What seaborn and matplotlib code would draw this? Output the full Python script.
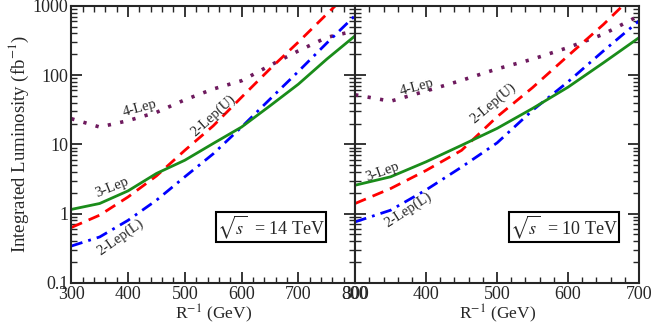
import numpy as np
import pandas as pd
import matplotlib
matplotlib.use('Agg')
import matplotlib.pyplot as plt
from matplotlib.ticker import MultipleLocator, LogLocator, NullFormatter, FixedLocator
import seaborn as sns

# datos
r_14 = [300, 350, 400, 450, 500, 550, 600, 650, 700, 750, 800]
lep3_14 = [1.15, 1.40, 2.13, 3.8, 5.9, 10.3, 17.8, 36, 74, 170, 370]
lep2u_14 = [0.63, 0.95, 1.74, 3.5, 8.2, 18.5, 48, 123, 300, 760, 1900]
lep2l_14 = [0.34, 0.46, 0.8, 1.56, 3.4, 7.3, 17.8, 45, 113, 290, 725]
lep4_14 = [23.5, 17.8, 22, 29, 44, 63, 83, 138, 224, 350, 437]

r_10 = [300, 350, 400, 450, 500, 550, 600, 650, 700]
lep3_10 = [2.57, 3.4, 5.6, 9.7, 17, 33, 67, 151, 347]
lep2u_10 = [1.40, 2.3, 4.2, 8.2, 25, 66, 190, 540, 1700]
lep2l_10 = [0.76, 1.12, 2.2, 4.7, 10.5, 31, 80, 224, 606]
lep4_10 = [52, 42, 59, 84, 123, 170, 250, 390, 720]

sns.set_style('ticks')
plt.rcParams['font.family'] = ['Liberation Serif', 'DejaVu Serif']
plt.rcParams['mathtext.fontset'] = 'stix'

colores = {'3-Lep': '#1a8c1a', '2-Lep(U)': '#ff0000', '2-Lep(L)': '#0000ff', '4-Lep': '#6e1a5e'}
estilos = {'3-Lep': '-', '2-Lep(U)': (0, (4.2, 2.6)), '2-Lep(L)': (0, (4.2, 2.2, 1.0, 2.2)), '4-Lep': (0, (0.9, 2.6))}


def armar_df(r, l3, l2u, l2l, l4):
    partes = []
    for nombre, vals in [('3-Lep', l3), ('2-Lep(U)', l2u), ('2-Lep(L)', l2l), ('4-Lep', l4)]:
        partes.append(pd.DataFrame({'R': r, 'lum': vals, 'canal': nombre}))
    return pd.concat(partes)


df_14 = armar_df(r_14, lep3_14, lep2u_14, lep2l_14, lep4_14)
df_10 = armar_df(r_10, lep3_10, lep2u_10, lep2l_10, lep4_10)

fig, axes = plt.subplots(1, 2, figsize=(6.54, 3.27), dpi=100)
fig.subplots_adjust(left=0.109, right=0.977, bottom=0.135, top=0.982, wspace=0)

for ax, df in zip(axes, [df_14, df_10]):
    for canal in ['4-Lep', '2-Lep(U)', '2-Lep(L)', '3-Lep']:
        d = df[df['canal'] == canal]
        sns.lineplot(ax=ax, data=d, x='R', y='lum', color=colores[canal],
                     linestyle=estilos[canal], linewidth=2.0 if canal != '4-Lep' else 2.6,
                     legend=False)
    ax.set_yscale('log')
    ax.set_ylim(0.1, 1000)
    ax.xaxis.set_major_locator(MultipleLocator(100))
    ax.xaxis.set_minor_locator(MultipleLocator(20))
    ax.yaxis.set_minor_locator(LogLocator(base=10, subs=np.arange(2, 10)))
    ax.yaxis.set_minor_formatter(NullFormatter())
    ax.tick_params(which='both', direction='in', top=True, right=True, labelsize=13, pad=2)
    ax.tick_params(which='major', length=8, width=1.3)
    ax.tick_params(which='minor', length=4, width=1.0)
    for s in ax.spines.values():
        s.set_linewidth(1.5)
    ax.set_xlabel('R$^{-1}$ (GeV)', fontsize=12.5, labelpad=0)
    ax.set_ylabel('')

axes[0].set_xlim(300, 800)
axes[1].set_xlim(300, 700)
axes[0].yaxis.set_major_locator(FixedLocator([0.1, 1, 10, 100, 1000]))
axes[0].set_yticklabels(['0.1', '1', '10', '100', '1000'])
axes[1].yaxis.set_major_locator(FixedLocator([0.1, 1, 10, 100, 1000]))
axes[1].set_yticklabels([])
axes[0].set_ylabel('Integrated Luminosity (fb$^{-1}$)', fontsize=13.5, labelpad=1)

# etiquetas de las curvas
tfs = 10.5
axes[0].text(421, 33, '4-Lep', rotation=15, fontsize=tfs, ha='center', va='center')
axes[0].text(550, 26, '2-Lep(U)', rotation=42, fontsize=tfs, ha='center', va='center')
axes[0].text(372, 2.4, '3-Lep', rotation=22, fontsize=tfs, ha='center', va='center')
axes[0].text(386, 0.46, '2-Lep(L)', rotation=35, fontsize=tfs, ha='center', va='center')
axes[1].text(387, 66, '4-Lep', rotation=15, fontsize=tfs, ha='center', va='center')
axes[1].text(494, 39, '2-Lep(U)', rotation=40, fontsize=tfs, ha='center', va='center')
axes[1].text(338, 4.0, '3-Lep', rotation=20, fontsize=tfs, ha='center', va='center')
axes[1].text(375, 1.12, '2-Lep(L)', rotation=33, fontsize=tfs, ha='center', va='center')

caja = dict(boxstyle='square,pad=0.06', facecolor='white', edgecolor='black', linewidth=1.5)
axes[0].text(652, 0.64, r'$\sqrt{s}$  = 14 TeV', fontsize=13, ha='center', va='center', bbox=caja)
axes[1].text(594, 0.64, r'$\sqrt{s}$  = 10 TeV', fontsize=13, ha='center', va='center', bbox=caja)

plt.savefig('out.png', dpi=100)
